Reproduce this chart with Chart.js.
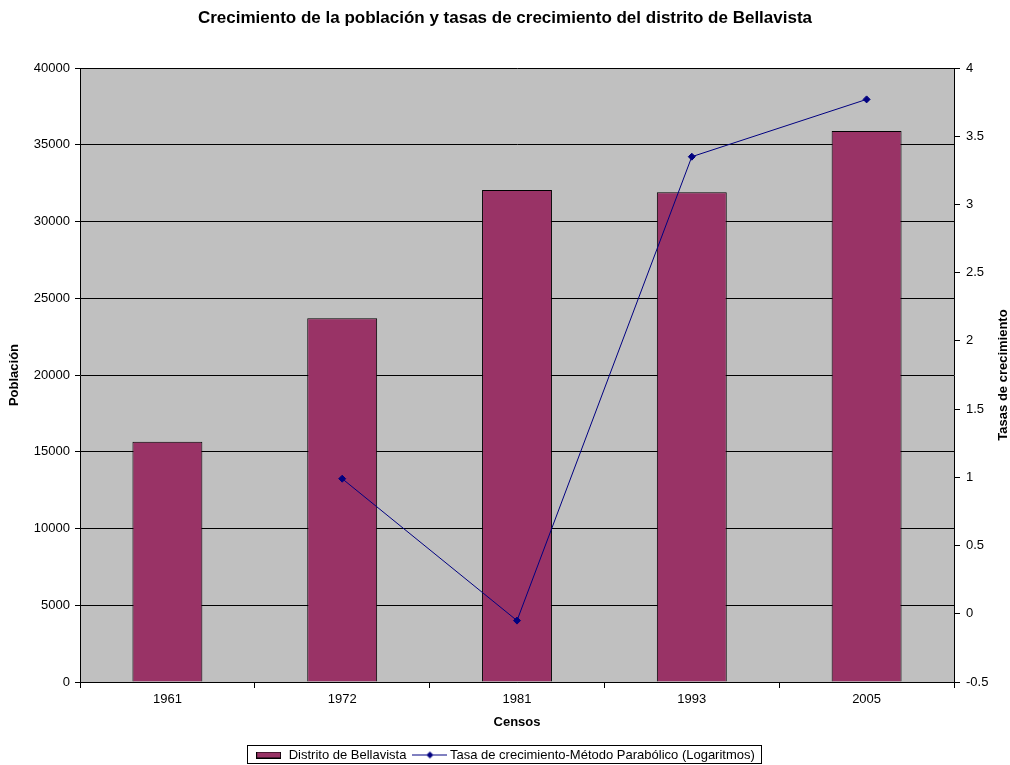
<!DOCTYPE html>
<html><head><meta charset="utf-8">
<script src="https://cdn.jsdelivr.net/npm/chart.js@4"></script>
<style>html,body{margin:0;padding:0;background:#fff}#wrap{width:1010px;height:765px}</style>
</head><body><div id="wrap"><canvas id="c" width="1010" height="765"></canvas></div>
<script>
const categories = ['1961', '1972', '1981', '1993', '2005'];
const poblacion = [15650, 23700, 32050, 31900, 35900];
const tasas = [null, 0.99, -0.05, 3.35, 3.77];
const seriesNames = ['Distrito de Bellavista', 'Tasa de crecimiento-Método Parabólico (Logaritmos)'];
const chartTitle = 'Crecimiento de la población y tasas de crecimiento del distrito de Bellavista';
const xTitle = 'Censos';
const yLeftTitle = 'Población';
const yRightTitle = 'Tasas de crecimiento';

const FONT = '"Liberation Sans", Arial, sans-serif';
Chart.defaults.color = '#000';
Chart.defaults.font.family = FONT;

function makeBarImg() {
  const c = document.createElement('canvas'); c.width = 25; c.height = 7;
  const x = c.getContext('2d');
  x.fillStyle = '#993366'; x.fillRect(0, 0, 25, 7);
  x.strokeStyle = '#000'; x.lineWidth = 1; x.strokeRect(0.5, 0.5, 24, 6);
  return c;
}
function makeLineImg() {
  const c = document.createElement('canvas'); c.width = 35; c.height = 9;
  const x = c.getContext('2d');
  x.strokeStyle = '#000080'; x.lineWidth = 1;
  x.beginPath(); x.moveTo(0, 4.5); x.lineTo(35, 4.5); x.stroke();
  x.fillStyle = '#000080';
  x.beginPath(); x.moveTo(17.5, 1); x.lineTo(21, 4.5); x.lineTo(17.5, 8); x.lineTo(14, 4.5); x.closePath(); x.fill();
  return c;
}

const bgPlugin = {
  id: 'bg',
  beforeDraw(chart) {
    const {ctx, chartArea: a} = chart;
    ctx.save(); ctx.fillStyle = '#C0C0C0';
    ctx.fillRect(a.left, a.top, a.right - a.left, a.bottom - a.top);
    ctx.restore();
  },
  afterDraw(chart) {
    const ctx = chart.ctx;
    const a = chart.chartArea;
    ctx.save();
    ctx.font = 'bold 13px ' + FONT;
    ctx.fillStyle = '#000'; ctx.textAlign = 'center'; ctx.textBaseline = 'middle';
    ctx.translate(1003, (a.top + a.bottom) / 2);
    ctx.rotate(-Math.PI / 2);
    ctx.fillText(yRightTitle, 0, 0);
    ctx.restore();
    const lg = chart.legend;
    if (lg && lg.legendHitBoxes && lg.legendHitBoxes.length) {
      let l = Infinity, r = -Infinity, t = Infinity, b = -Infinity;
      lg.legendHitBoxes.forEach(h => { l = Math.min(l, h.left); r = Math.max(r, h.left + h.width); t = Math.min(t, h.top); b = Math.max(b, h.top + h.height); });
      ctx.save(); ctx.strokeStyle = '#000'; ctx.lineWidth = 1;
      const top = Math.round(t - 4) + 0.5;
      const bottom = Math.min(763.5, Math.round(b + 2) + 0.5);
      ctx.strokeRect(Math.round(l - 8) + 0.5, top, Math.round(r - l + 14), bottom - top);
      ctx.restore();
    }
  }
};

const barImg = makeBarImg();
const lineImg = makeLineImg();

new Chart(document.getElementById('c'), {
  data: {
    labels: categories,
    datasets: [
      { type: 'bar', label: seriesNames[0], data: poblacion, yAxisID: 'y', order: 1,
        backgroundColor: '#993366', borderColor: '#000', borderWidth: 1,
        barPercentage: 0.4, categoryPercentage: 1.0 },
      { type: 'line', label: seriesNames[1], data: tasas, yAxisID: 'y1', order: 0,
        borderColor: '#000080', borderWidth: 1, backgroundColor: '#000080',
        pointStyle: 'rectRot', pointRadius: 3.5, pointBackgroundColor: '#000080', pointBorderColor: '#000080',
        tension: 0, spanGaps: false, fill: false }
    ]
  },
  options: {
    responsive: false,
    animation: false,
    layout: { padding: { left: 0, right: 0, top: 0, bottom: -6.5 } },
    plugins: {
      tooltip: { enabled: false },
      title: { display: true, text: chartTitle, font: { size: 17, weight: 'bold', family: FONT }, color: '#000',
               padding: { top: 8, bottom: 39.6 } },
      legend: {
        position: 'bottom',
        labels: {
          usePointStyle: true, pointStyleWidth: 27, boxHeight: 13,
          font: { size: 13, family: FONT }, color: '#000', padding: 10,
          generateLabels: () => [
            { text: seriesNames[0], pointStyle: barImg, datasetIndex: 0, hidden: false, lineWidth: 0, fillStyle: '#993366', strokeStyle: '#000' },
            { text: seriesNames[1], pointStyle: lineImg, datasetIndex: 1, hidden: false, lineWidth: 0, fillStyle: '#000080', strokeStyle: '#000080' }
          ]
        }
      }
    },
    scales: {
      x: {
        grid: { display: true, drawOnChartArea: false, drawTicks: true, tickLength: 6, color: '#000', offset: true },
        border: { display: true, color: '#000', width: 1 },
        ticks: { font: { size: 13, family: FONT }, color: '#000', padding: 4, maxRotation: 0 },
        title: { display: true, text: xTitle, font: { size: 13, weight: 'bold', family: FONT }, color: '#000', padding: { top: 0, bottom: 8.7 } },
        afterFit(s) { s.height = 56.5; }
      },
      y: {
        position: 'left', min: 0, max: 40000,
        ticks: { stepSize: 5000, font: { size: 13, family: FONT }, color: '#000', padding: 5, callback: v => String(v) },
        grid: { color: '#000', lineWidth: 1, drawTicks: true, tickLength: 5 },
        border: { display: true, color: '#000', width: 1 },
        title: { display: true, text: yLeftTitle, font: { size: 13, weight: 'bold', family: FONT }, color: '#000', padding: { top: 7, bottom: 0 } },
        afterFit(s) { s.width = 80; }
      },
      y1: {
        position: 'right', min: -0.5, max: 4,
        ticks: { stepSize: 0.5, font: { size: 13, family: FONT }, color: '#000', padding: 6, callback: v => String(Math.round(v * 10) / 10) },
        grid: { drawOnChartArea: false, drawTicks: true, tickLength: 6, color: '#000' },
        border: { display: true, color: '#000', width: 1 },
        afterFit(s) { s.width = 56; }
      }
    }
  },
  plugins: [bgPlugin]
});
</script>
</body></html>
